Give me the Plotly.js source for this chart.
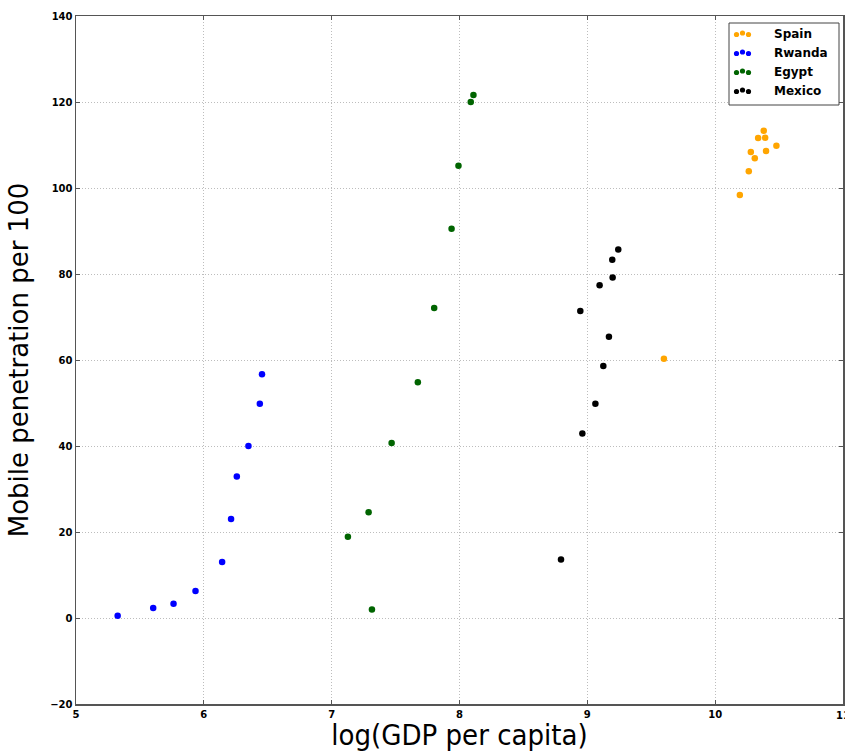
<!DOCTYPE html>
<html>
<head>
<meta charset="utf-8">
<script src="https://cdn.plot.ly/plotly-3.0.1.min.js"></script>
<style>
  html, body { margin: 0; padding: 0; background: #fff; }
  #chart { width: 845px; height: 752px; }
</style>
</head>
<body>
<div id="chart"></div>
<script>
// Mobile penetration vs. log GDP per capita, one series per country
const countries = ["Spain", "Rwanda", "Egypt", "Mexico"];
const colors = ["#FFA500", "#0000FF", "#006400", "#000000"];

const spainX = [9.599, 10.193, 10.263, 10.310, 10.279, 10.336, 10.380, 10.391, 10.398, 10.479];
const spainY = [60.3, 98.4, 103.9, 106.9, 108.4, 111.6, 113.3, 111.7, 108.6, 109.8];

const rwandaX = [5.326, 5.604, 5.763, 5.935, 6.143, 6.213, 6.258, 6.349, 6.438, 6.455];
const rwandaY = [0.5, 2.3, 3.3, 6.3, 13.0, 23.0, 32.9, 40.0, 49.8, 56.7];

const egyptX = [7.315, 7.127, 7.289, 7.469, 7.674, 7.802, 7.938, 7.992, 8.088, 8.109];
const egyptY = [2.0, 18.9, 24.6, 40.7, 54.8, 72.1, 90.5, 105.2, 120.0, 121.6];

const mexicoX = [8.794, 8.961, 9.063, 9.125, 9.169, 8.945, 9.096, 9.198, 9.195, 9.242];
const mexicoY = [13.6, 42.9, 49.8, 58.6, 65.4, 71.4, 77.4, 79.2, 83.3, 85.7];

const xTicks = [5, 6, 7, 8, 9, 10, 11];
const yTicks = [-20, 0, 20, 40, 60, 80, 100, 120, 140];

const seriesX = [spainX, rwandaX, egyptX, mexicoX];
const seriesY = [spainY, rwandaY, egyptY, mexicoY];

const traces = countries.map((name, i) => ({
  type: "scatter",
  mode: "markers",
  name: name,
  x: seriesX[i],
  y: seriesY[i],
  marker: { color: colors[i], size: 6.5, line: { width: 0 } }
}));

const tickFont = { family: "DejaVu Sans", size: 10, color: "#000", weight: "bold" };
const axisLine = "#555";
const gridStyle = { showgrid: true, gridcolor: "#bdbdbd", griddash: "1px,2px", gridwidth: 1 };

const layout = {
  width: 845,
  height: 752,
  margin: { l: 76, r: 2, t: 16, b: 48 },
  paper_bgcolor: "#fff",
  plot_bgcolor: "#fff",
  showlegend: false,
  font: { family: "DejaVu Sans" },
  xaxis: Object.assign({
    range: [5, 11],
    tickvals: xTicks,
    ticktext: xTicks.map(String),
    tickfont: tickFont,
    ticks: "inside",
    ticklen: 4,
    tickcolor: axisLine,
    showline: true,
    linecolor: axisLine,
    linewidth: 1.5,
    mirror: "ticks",
    zeroline: false,
    title: {
      text: "log(GDP per capita)",
      font: { family: "DejaVu Sans Condensed, DejaVu Sans", size: 29, color: "#000" },
      standoff: 10
    }
  }, gridStyle),
  yaxis: Object.assign({
    range: [-20, 140],
    tickvals: yTicks,
    ticktext: yTicks.map(v => v < 0 ? "\u2212" + Math.abs(v) : String(v)),
    tickfont: tickFont,
    ticks: "inside",
    ticklen: 4,
    tickcolor: axisLine,
    showline: true,
    linecolor: axisLine,
    linewidth: 1.5,
    mirror: "ticks",
    zeroline: false,
    title: {
      text: "Mobile penetration per 100",
      font: { family: "DejaVu Sans", size: 26, color: "#000" },
      standoff: 14
    }
  }, gridStyle),
  shapes: [],
  annotations: []
};

// The last x tick label sits on the right edge of the figure
layout.annotations.push({
  xref: "x", yref: "paper", x: 11, y: 0, yshift: -4,
  xanchor: "center", yanchor: "top", showarrow: false,
  text: "11", font: tickFont
});

// Legend panel in the upper right, three dots per entry
const plotW = 845 - 76 - 2, plotH = 752 - 16 - 48;
const px = v => (v - 76) / plotW;
const py = v => (704 - v) / plotH;

layout.shapes.push({
  type: "rect", xref: "paper", yref: "paper",
  x0: px(729), x1: px(839), y0: py(105), y1: py(23),
  line: { color: "#444", width: 1 }, fillcolor: "#fff", layer: "above"
});

const rowY = [34, 53, 72, 91];
const dotX = [736.5, 742.5, 748.5];
const dotDy = [0.5, -1, 0.5];
countries.forEach((name, i) => {
  dotX.forEach((dx, k) => {
    layout.shapes.push({
      type: "circle", xref: "paper", yref: "paper",
      xsizemode: "pixel", ysizemode: "pixel",
      xanchor: px(dx), yanchor: py(rowY[i] + dotDy[k]),
      x0: -2.6, x1: 2.6, y0: -2.6, y1: 2.6,
      fillcolor: colors[i], line: { width: 0 }, layer: "above"
    });
  });
  layout.annotations.push({
    xref: "paper", yref: "paper",
    x: px(772), y: py(rowY[i]),
    xanchor: "left", yanchor: "middle",
    text: name, showarrow: false,
    font: { family: "DejaVu Sans", size: 12, color: "#000", weight: "bold" }
  });
});

Plotly.newPlot("chart", traces, layout, { displayModeBar: false, staticPlot: true });
</script>
</body>
</html>
